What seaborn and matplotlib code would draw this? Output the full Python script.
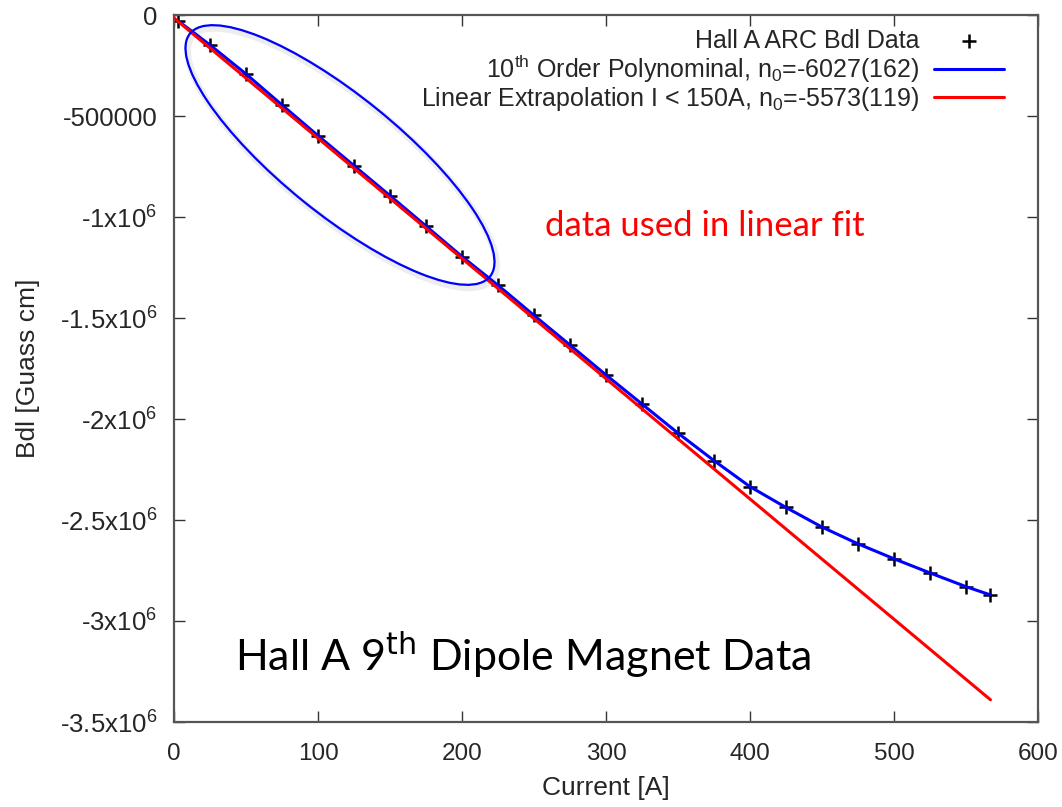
import numpy as np
import pandas as pd
import matplotlib
matplotlib.use("Agg")
import matplotlib.pyplot as plt
import seaborn as sns
from matplotlib.patches import Ellipse
from matplotlib.transforms import Affine2D

# ---------------- data ----------------
current = [3, 25, 50, 75, 100, 125, 150, 175, 200, 225, 250, 275, 300, 325,
           350, 375, 400, 425, 450, 475, 500, 525, 550, 567]
bdl = [-30000, -148500, -292000, -445500, -597500, -746000, -894500, -1045000,
       -1196000, -1338000, -1487000, -1634000, -1782000, -1926000, -2070000,
       -2206000, -2335000, -2438000, -2535000, -2618000, -2692000, -2762000,
       -2830000, -2871000]
lin_x = [0, 567]
lin_y = [-15000, -3390000]

x_ticks = [0, 100, 200, 300, 400, 500, 600]
y_ticks = [0, -500000, -1000000, -1500000, -2000000, -2500000, -3000000, -3500000]
y_tick_labels = ["0", "-500000", r"-1x10$^{6}$", r"-1.5x10$^{6}$", r"-2x10$^{6}$",
                 r"-2.5x10$^{6}$", r"-3x10$^{6}$", r"-3.5x10$^{6}$"]

lbl_data = "Hall A ARC Bdl Data"
lbl_poly = r"10$^{\rm th}$ Order Polynominal, n$_{0}$=-6027(162)"
lbl_lin = r"Linear Extrapolation I < 150A, n$_{0}$=-5573(119)"

df = pd.DataFrame({"I": current, "B": bdl})
df_lin = pd.DataFrame({"I": lin_x, "B": lin_y})

# ---------------- style ----------------
sns.set_style("ticks")
plt.rcParams["font.family"] = ["Liberation Sans", "DejaVu Sans"]
plt.rcParams["mathtext.fontset"] = "custom"
plt.rcParams["mathtext.rm"] = "Liberation Sans"
plt.rcParams["mathtext.it"] = "Liberation Sans:italic"
plt.rcParams["mathtext.bf"] = "Liberation Sans:bold"

fig = plt.figure(figsize=(10.62, 8.07), dpi=100)
L, R, T, B = 174, 1038, 15, 722
W, H = 1062, 807
ax = fig.add_axes([L / W, 1 - B / H, (R - L) / W, (B - T) / H])

sns.scatterplot(data=df, x="I", y="B", marker="+", s=110, color="black",
                linewidth=1.8, ax=ax, label=lbl_data, zorder=2)
sns.lineplot(data=df, x="I", y="B", color="#0000ff", linewidth=2.2, ax=ax,
             label=lbl_poly, zorder=3)
sns.lineplot(data=df_lin, x="I", y="B", color="#ff0000", linewidth=2.2, ax=ax,
             label=lbl_lin, zorder=4)

ax.set_xlim(0, 600)
ax.set_ylim(-3500000, 0)
ax.set_xticks(x_ticks)
ax.set_xticklabels([str(v) for v in x_ticks])
ax.set_yticks(y_ticks)
ax.set_yticklabels(y_tick_labels)
ax.tick_params(direction="in", length=8, width=1.0, color="#333333",
               top=True, right=True)
ax.tick_params(axis="y", labelsize=18.5, pad=12)
ax.tick_params(axis="x", labelsize=17.5, pad=15)
for s in ax.spines.values():
    s.set_color("#555555")
    s.set_linewidth(1.6)
ax.set_xlabel("Current [A]", fontsize=19, labelpad=8)
ax.set_ylabel("Bdl [Guass cm]", fontsize=19, labelpad=14)

h, l = ax.get_legend_handles_labels()
leg = ax.legend(h, l, loc="upper right", bbox_to_anchor=(1 - 20 / (R - L), 1.0),
                frameon=False, markerfirst=False, fontsize=18,
                handlelength=2.8, handletextpad=0.6, labelspacing=0.0,
                scatterpoints=1, borderaxespad=0.15)

# ellipse annotation (pixel units relative to axes)
pix = Affine2D().scale(1.0 / (R - L), 1.0 / (B - T)) + ax.transAxes
cx, cy = 340 - L, B - 155
shadow = Ellipse((cx + 2, cy - 3), 386, 118, angle=-39, fill=False,
                 edgecolor="#000000", alpha=0.07, linewidth=5, transform=pix,
                 zorder=1)
ax.add_patch(shadow)
ell = Ellipse((cx, cy), 386, 118, angle=-39, fill=False, edgecolor="#0000ff",
              linewidth=1.6, transform=pix, zorder=5)
ax.add_patch(ell)

ax.text((705 - L) / (R - L), (B - 226) / (B - T), "data used in linear fit",
        transform=ax.transAxes, color="#ff0000", fontsize=25, family="Lato",
        ha="center", va="center")
ax.text((523 - L) / (R - L), (B - 655) / (B - T), "Hall A 9$^{\\mathsf{th}}$ Dipole Magnet Data",
        transform=ax.transAxes, color="black", fontsize=31, family="Lato",
        ha="center", va="center")

fig.savefig("out.png", dpi=100)
